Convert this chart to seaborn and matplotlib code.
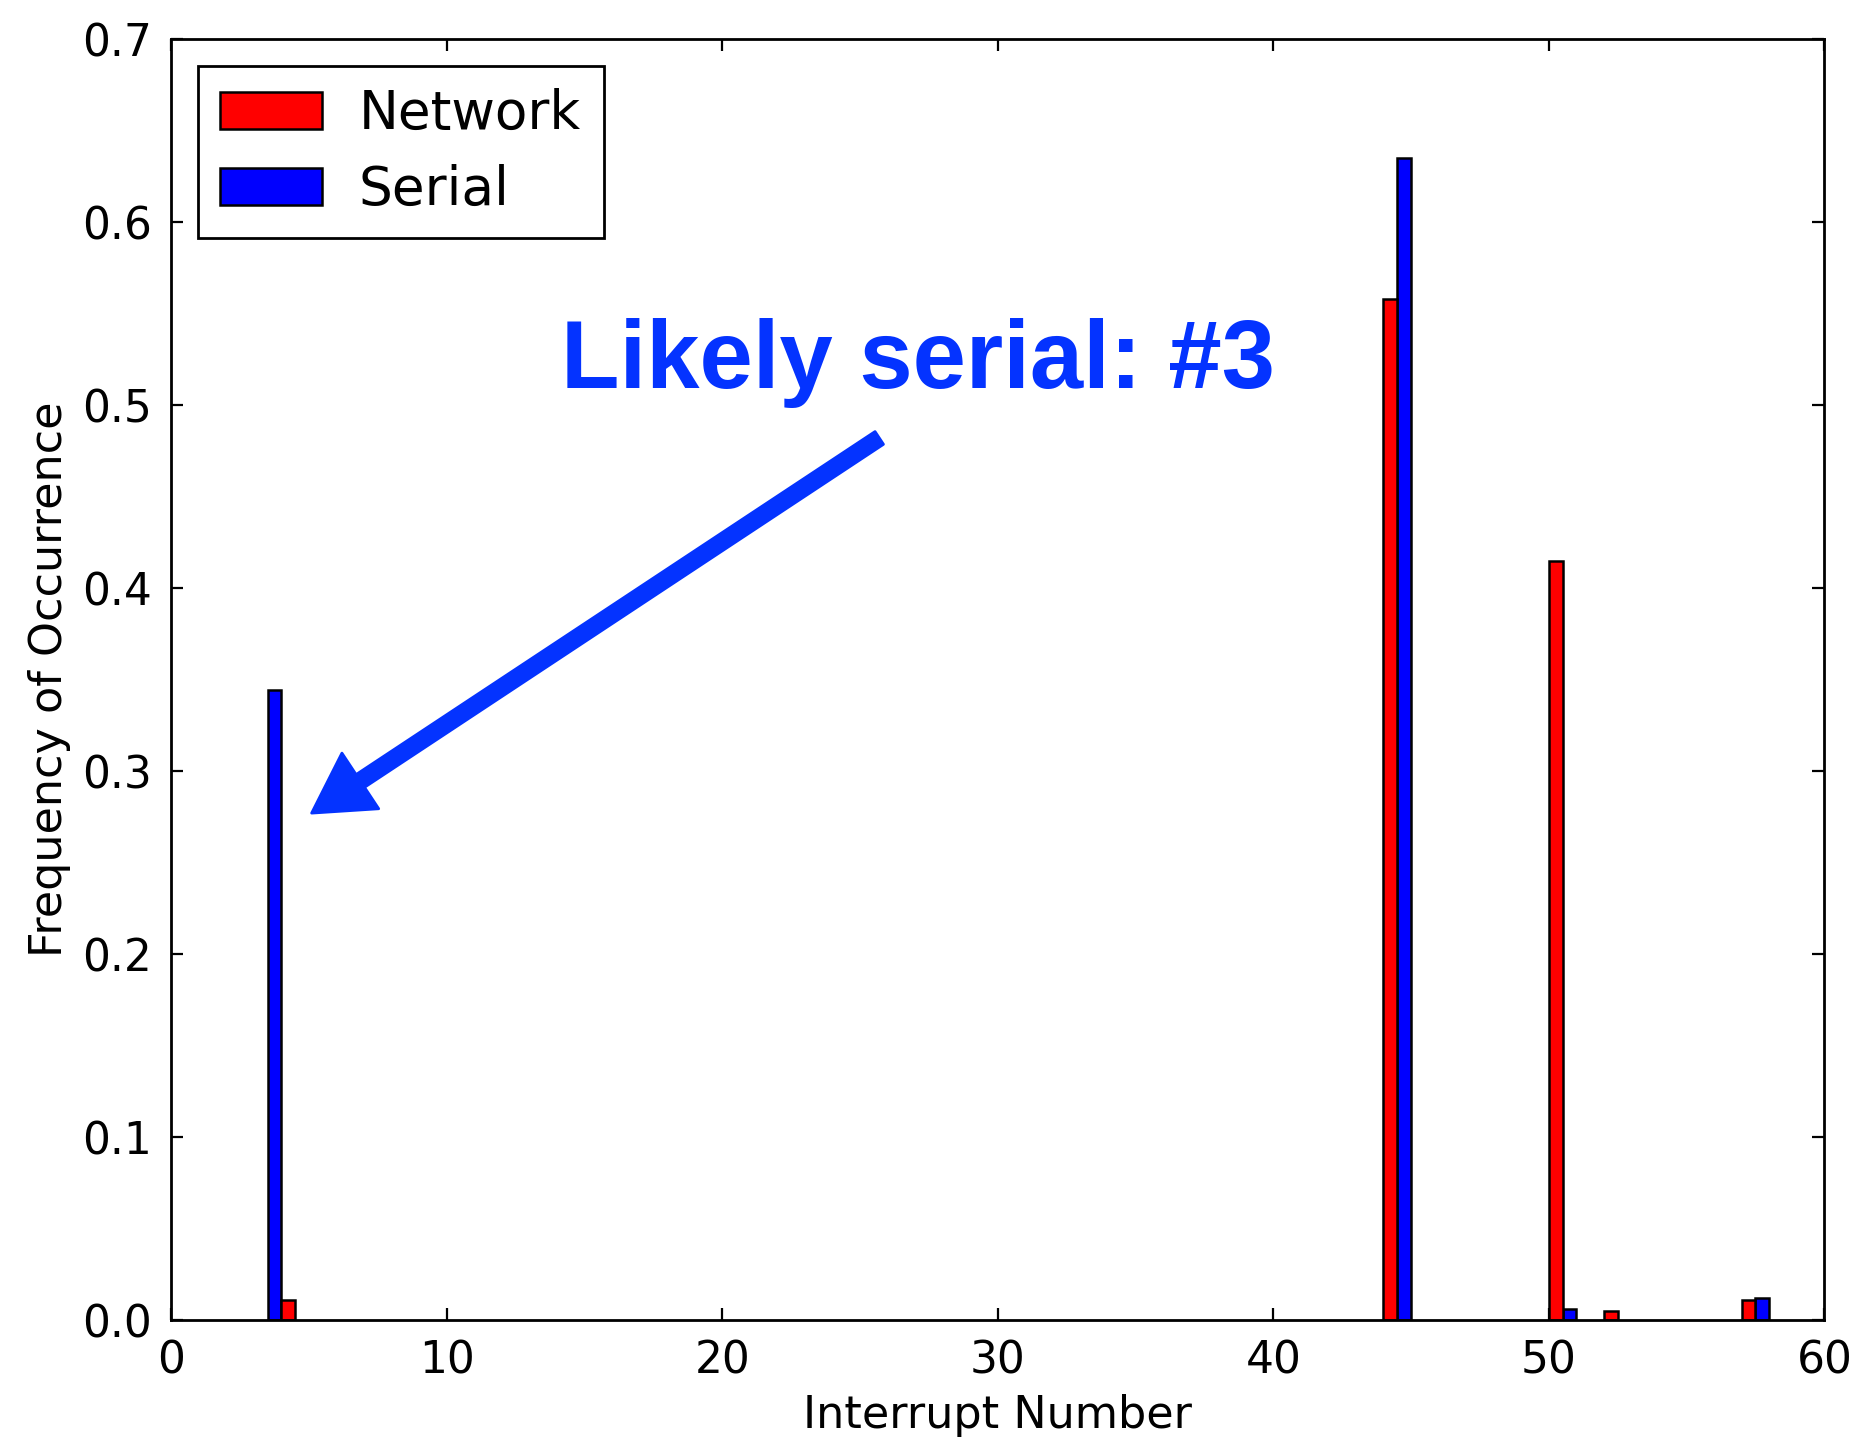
import numpy as np
import pandas as pd
import seaborn as sns
import matplotlib.pyplot as plt
from matplotlib.patches import Patch

# --- data ---
network_irq = [4, 44, 50, 52, 57]
network_freq = [0.011, 0.558, 0.415, 0.005, 0.011]
serial_irq = [3, 44, 50, 57]
serial_freq = [0.344, 0.635, 0.006, 0.012]
sources = ["Network", "Serial"]
colors = {"Network": "#ff0000", "Serial": "#0000ff"}
note_color = "#0433ff"

df = pd.concat([
    pd.DataFrame({"irq": network_irq, "freq": network_freq, "source": "Network"}),
    pd.DataFrame({"irq": serial_irq, "freq": serial_freq, "source": "Serial"}),
], ignore_index=True)

sns.set_style("ticks")
plt.rcParams['font.family'] = ['DejaVu Sans']
plt.rcParams.update({
    "xtick.direction": "in", "ytick.direction": "in",
    "xtick.top": True, "ytick.right": True,
    "xtick.major.size": 4.3, "ytick.major.size": 4.3,
    "xtick.major.width": 0.8, "ytick.major.width": 0.8,
    "axes.linewidth": 1.0, "axes.edgecolor": "black",
    "text.color": "black", "axes.labelcolor": "black",
    "xtick.color": "black", "ytick.color": "black",
})

fig = plt.figure(figsize=(9.27, 7.225), dpi=200)
ax = fig.add_axes([0.0923, 0.0865, 0.8917, 0.8865])

sns.histplot(data=df, x="irq", weights="freq", hue="source", hue_order=sources,
             palette=colors, multiple="dodge", binwidth=1, binrange=(0, 60),
             shrink=1, alpha=1, edgecolor="black", linewidth=0.9,
             legend=False, ax=ax)

# drop the empty bins so they don't thicken the baseline
for p in list(ax.patches):
    if p.get_height() == 0:
        p.remove()

ax.set_xlim(0, 60)
ax.set_ylim(0, 0.7)
ax.set_xticks(np.arange(0, 61, 10))
ax.set_yticks(np.arange(0, 0.71, 0.1))
ax.set_yticklabels([f"{v:.1f}" for v in np.arange(0, 0.71, 0.1)])
ax.tick_params(labelsize=15.8, pad=7)
ax.set_xlabel("Interrupt Number", fontsize=16)
ax.set_ylabel("Frequency of Occurrence", fontsize=16)

handles = [Patch(facecolor=colors[s], edgecolor="black", linewidth=0.9) for s in sources]
leg = ax.legend(handles, sources, loc="upper left", fontsize=19.2, fancybox=False,
                edgecolor="black", framealpha=1, handlelength=1.9, handletextpad=0.7,
                labelspacing=0.45, borderpad=0.42, borderaxespad=0.5)
leg.get_frame().set_linewidth(1.0)

ax.text(14.15, 0.523, "Likely serial: #3", color=note_color, fontsize=34.5,
        fontweight="bold", family="Liberation Sans", va="center", ha="left")
ax.annotate("", xy=(5.1, 0.277), xytext=(25.7, 0.482),
            arrowprops=dict(facecolor=note_color, edgecolor=note_color,
                            width=5.5, headwidth=24, headlength=21, shrink=0))

fig.savefig("out.png", dpi=200, facecolor="white")
